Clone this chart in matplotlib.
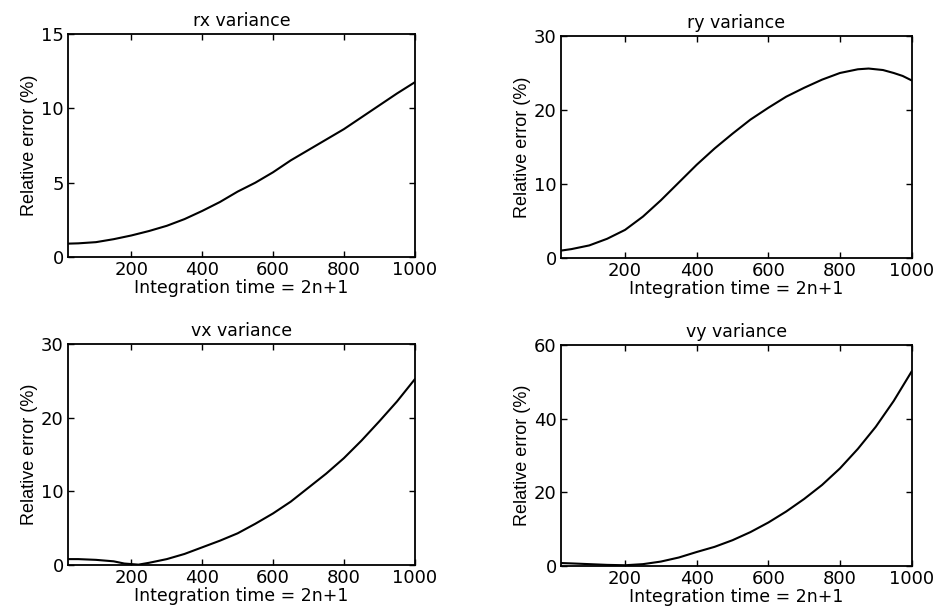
import matplotlib
matplotlib.use("Agg")
import matplotlib.pyplot as plt

# x values (integration time = 2n+1) and relative error (%)
rx_x = [21, 50, 100, 150, 200, 250, 300, 350, 400, 450, 500, 550, 600, 650, 700,
        750, 800, 850, 900, 950, 1000]
rx_y = [0.9, 0.92, 1.0, 1.2, 1.45, 1.75, 2.1, 2.55, 3.1, 3.7, 4.4, 5.0, 5.7, 6.5,
        7.2, 7.9, 8.6, 9.4, 10.2, 11.0, 11.75]

ry_x = [21, 50, 100, 150, 200, 250, 300, 350, 400, 450, 500, 550, 600, 650, 700,
        750, 800, 850, 880, 920, 950, 975, 1000]
ry_y = [1.0, 1.2, 1.7, 2.6, 3.8, 5.6, 7.8, 10.2, 12.6, 14.8, 16.8, 18.7, 20.3,
        21.8, 23.0, 24.1, 25.0, 25.5, 25.6, 25.4, 25.0, 24.6, 24.0]

vx_x = [21, 50, 100, 150, 180, 220, 250, 300, 350, 400, 450, 500, 550, 600, 650,
        700, 750, 800, 850, 900, 950, 1000]
vx_y = [0.8, 0.8, 0.7, 0.5, 0.2, 0.05, 0.3, 0.8, 1.5, 2.4, 3.3, 4.3, 5.6, 7.0,
        8.6, 10.5, 12.4, 14.5, 16.9, 19.5, 22.2, 25.2]

vy_x = [21, 50, 100, 150, 200, 250, 300, 350, 400, 450, 500, 550, 600, 650, 700,
        750, 800, 850, 900, 950, 1000]
vy_y = [0.8, 0.7, 0.5, 0.3, 0.2, 0.5, 1.2, 2.3, 3.8, 5.2, 7.0, 9.2, 11.8, 14.8,
        18.2, 22.0, 26.5, 31.8, 37.8, 44.8, 52.8]

titles = ["rx variance", "ry variance", "vx variance", "vy variance"]
yticks = [[0, 5, 10, 15], [0, 10, 20, 30], [0, 10, 20, 30], [0, 20, 40, 60]]
xticks = [200, 400, 600, 800, 1000]
xlabel = "Integration time = 2n+1"
ylabel = "Relative error (%)"

series = [(rx_x, rx_y), (ry_x, ry_y), (vx_x, vx_y), (vy_x, vy_y)]

fig = plt.figure(figsize=(9.39, 6.14), dpi=100)
boxes = [
    [0.0724, 0.5814, 0.442 - 0.0724, 0.9446 - 0.5814],
    [0.5974, 0.5798, 0.9712 - 0.5974, 0.9414 - 0.5798],
    [0.0724, 0.0798, 0.442 - 0.0724, 0.4397 - 0.0798],
    [0.5974, 0.0782, 0.9712 - 0.5974, 0.4381 - 0.0782],
]

for box, (xs, ys), t, yt in zip(boxes, series, titles, yticks):
    ax = fig.add_axes(box)
    ax.plot(xs, ys, color="black", lw=1.5)
    ax.set_xlim(21, 1001)
    ax.set_ylim(yt[0], yt[-1])
    ax.set_xticks(xticks)
    ax.set_yticks(yt)
    ax.tick_params(direction="in", top=True, right=True, length=4, width=1,
                   labelsize=13, pad=3)
    for lab in ax.get_xticklabels() + ax.get_yticklabels():
        lab.set_family("DejaVu Sans")
    for sp in ax.spines.values():
        sp.set_linewidth(1.3)
    ax.set_title(t, fontsize=12.5, family="DejaVu Sans", pad=6)
    ax.set_xlabel(xlabel, fontsize=12.5, family="DejaVu Sans", labelpad=0)
    ax.set_ylabel(ylabel, fontsize=13, family="Liberation Sans", labelpad=2)

fig.savefig("out.png", dpi=100)
